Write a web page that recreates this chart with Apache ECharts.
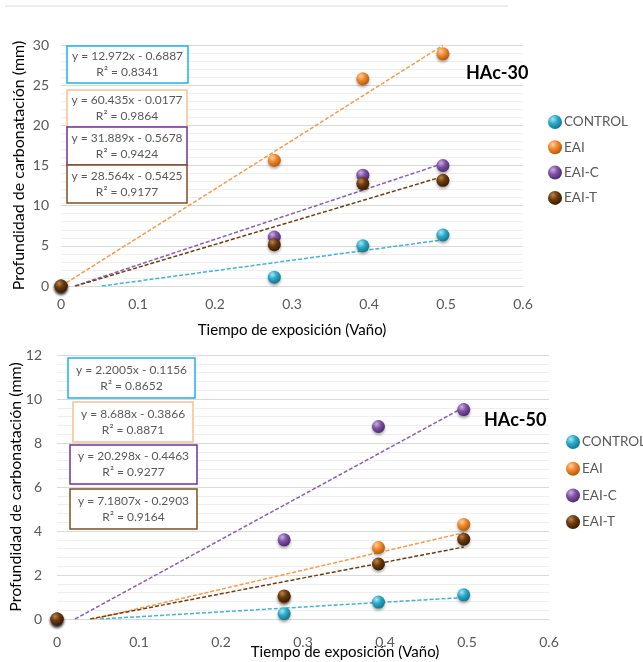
<!DOCTYPE html>
<html>
<head>
<meta charset="utf-8">
<script src="https://cdn.jsdelivr.net/npm/echarts@6/dist/echarts.min.js"></script>
<style>
    html, body { margin: 0; padding: 0; background: #fff; }
    #chart { width: 643px; height: 662px; }
</style>
</head>
<body>
<div id="chart"></div>
<script>
var seriesNames = ['CONTROL', 'EAI', 'EAI-C', 'EAI-T'];
var xTicks = [0, 0.1, 0.2, 0.3, 0.4, 0.5, 0.6];
var xTime = [0, 0.277, 0.392, 0.496];

// HAc-30
var control30 = [0, 1.1, 5.0, 6.35];
var eai30 = [0, 15.65, 25.8, 28.9];
var eaiC30 = [0, 6.1, 13.8, 15.0];
var eaiT30 = [0, 5.15, 12.75, 13.15];
var slope30 = [12.972, 60.435, 31.889, 28.564];
var intercept30 = [-0.6887, -0.0177, -0.5678, -0.5425];
var r2_30 = ['0.8341', '0.9864', '0.9424', '0.9177'];

// HAc-50
var control50 = [0, 0.24, 0.77, 1.1];
var eai50 = [0, 1.0, 3.25, 4.3];
var eaiC50 = [0, 3.6, 8.75, 9.52];
var eaiT50 = [0, 1.05, 2.5, 3.63];
var slope50 = [2.2005, 8.688, 20.298, 7.1807];
var intercept50 = [-0.1156, -0.3866, -0.4463, -0.2903];
var r2_50 = ['0.8652', '0.8871', '0.9277', '0.9164'];

var FONT = 'Lato, "Noto Sans", sans-serif';
var GREY = '#595959';

// sphere colours: [highlight, base, shadow side]
var sphereColors = [
    ['#a8e6f4', '#2aa9c8', '#12738a'],
    ['#fdd0a0', '#f0872b', '#b2560a'],
    ['#cbb0e2', '#7e52a6', '#4a286a'],
    ['#b9854f', '#6b3a0c', '#361a02']
];
var trendColors = ['#44b2d1', '#f79a4c', '#8762b0', '#6e3f14'];
var boxColors = ['#1eb1ea', '#fac090', '#7030a0', '#7f4f1f'];

function sphere(i) {
    var c = sphereColors[i];
    return new echarts.graphic.RadialGradient(0.35, 0.3, 0.75, [
        { offset: 0, color: c[0] },
        { offset: 0.45, color: c[1] },
        { offset: 1, color: c[2] }
    ]);
}

function pairs(ys) {
    return xTime.map(function(x, k) { return [x, ys[k]]; });
}

function trendData(a, b) {
    var x0 = Math.max(0, -b / a);
    var x1 = xTime[xTime.length - 1];
    return [[x0, a * x0 + b], [x1, a * x1 + b]];
}

var allSeries = [];
function addChart(idx, values, slopes, intercepts) {
    // trendlines first so the spheres sit on top
    seriesNames.forEach(function(name, i) {
        allSeries.push({
            name: name + ' tendencia',
            type: 'line',
            xAxisIndex: idx,
            yAxisIndex: idx,
            data: trendData(slopes[i], intercepts[i]),
            symbol: 'none',
            silent: true,
            z: 1,
            lineStyle: { color: trendColors[i], width: 1.5, type: [4, 2] }
        });
    });
    seriesNames.forEach(function(name, i) {
        allSeries.push({
            name: name,
            type: 'scatter',
            xAxisIndex: idx,
            yAxisIndex: idx,
            data: pairs(values[i]),
            symbolSize: 13,
            z: 3,
            itemStyle: {
                color: sphere(i),
                opacity: 1,
                shadowBlur: 3,
                shadowOffsetY: 2,
                shadowColor: 'rgba(0,0,0,0.35)'
            }
        });
    });
}
addChart(0, [control30, eai30, eaiC30, eaiT30], slope30, intercept30);
addChart(1, [control50, eai50, eaiC50, eaiT50], slope50, intercept50);

function eqText(a, b, r2) {
    return 'y = ' + a + 'x - ' + Math.abs(b) + '\nR\u00b2 = ' + r2;
}

function eqBoxes(boxes, slopes, intercepts, r2s) {
    return boxes.map(function(bx, i) {
        return {
            type: 'group',
            children: [{
                type: 'rect',
                shape: { x: bx[0], y: bx[1], width: bx[2], height: bx[3] },
                style: { fill: '#fff', stroke: boxColors[i], lineWidth: 1.5 },
                z: 10
            }, {
                type: 'text',
                x: bx[0] + bx[2] / 2,
                y: bx[1] + bx[3] / 2,
                style: {
                    text: eqText(slopes[i], intercepts[i], r2s[i]),
                    fill: GREY,
                    font: '12px ' + FONT,
                    lineHeight: 16,
                    align: 'center',
                    verticalAlign: 'middle'
                },
                z: 11
            }]
        };
    });
}

var boxes30 = [[67, 46, 121, 37], [67, 90, 120, 37], [67, 127, 120, 38], [67, 165, 120, 38]];
var boxes50 = [[68, 358, 127, 40], [73, 402, 120, 40], [70, 445, 127, 39], [70, 489, 127, 40]];

function xAxisCfg(idx, gap, pad, margin) {
    return {
        type: 'value',
        gridIndex: idx,
        min: xTicks[0],
        max: xTicks[xTicks.length - 1],
        interval: 0.1,
        name: 'Tiempo de exposición (Vaño)',
        nameLocation: 'middle',
        nameGap: gap,
        nameMoveOverlap: false,
        nameTextStyle: { color: '#000', fontSize: 15, fontFamily: FONT, padding: pad },
        axisLine: { lineStyle: { color: '#d9d9d9', width: 1 } },
        axisTick: { show: false },
        splitLine: { show: false },
        axisLabel: { color: GREY, fontSize: 14, fontFamily: FONT, margin: margin }
    };
}

function yAxisCfg(idx, max, interval, gap, margin) {
    return {
        type: 'value',
        gridIndex: idx,
        min: 0,
        max: max,
        interval: interval,
        name: 'Profundidad de carbonatación (mm)',
        nameLocation: 'middle',
        nameGap: gap,
        nameMoveOverlap: false,
        nameTextStyle: { color: '#000', fontSize: 16, fontFamily: FONT },
        axisLine: { show: false },
        axisTick: { show: false },
        minorTick: { show: false, splitNumber: 5 },
        splitLine: { lineStyle: { color: '#d9d9d9' } },
        minorSplitLine: { show: true, lineStyle: { color: '#efefef' } },
        axisLabel: { color: GREY, fontSize: 14, fontFamily: FONT, margin: margin }
    };
}

function legendCfg(left, top, gap) {
    return {
        data: seriesNames,
        orient: 'vertical',
        left: left,
        top: top,
        icon: 'circle',
        itemWidth: 14,
        itemHeight: 14,
        itemGap: gap,
        padding: 0,
        selectedMode: false,
        textStyle: { color: GREY, fontSize: 13.5, fontFamily: FONT, padding: [0, 0, 0, -3] }
    };
}

var option = {
    backgroundColor: '#fff',
    animation: false,
    title: [
        { text: 'HAc-30', left: 461, top: 59, textStyle: { fontSize: 18, fontWeight: 'bold', color: '#000', fontFamily: FONT } },
        { text: 'HAc-50', left: 479, top: 406, textStyle: { fontSize: 18, fontWeight: 'bold', color: '#000', fontFamily: FONT } }
    ],
    legend: [legendCfg(548, 115, 11.3), legendCfg(566, 435, 12.7)],
    grid: [
        { left: 61, top: 45, width: 462, height: 241, outerBoundsMode: 'none' },
        { left: 57, top: 355, width: 492, height: 264, outerBoundsMode: 'none' }
    ],
    xAxis: [xAxisCfg(0, 37, 0, 11), xAxisCfg(1, 26, [0, 0, 0, 84], 16)],
    yAxis: [yAxisCfg(0, 30, 5, 34, 12), yAxisCfg(1, 12, 2, 33, 15)],
    series: allSeries,
    graphic: [{
        type: 'line',
        shape: { x1: 5, y1: 6, x2: 508, y2: 6 },
        style: { stroke: '#d9d9d9', lineWidth: 1 }
    }].concat(eqBoxes(boxes30, slope30, intercept30, r2_30))
      .concat(eqBoxes(boxes50, slope50, intercept50, r2_50))
};

var myChart = echarts.init(document.getElementById('chart'));
myChart.setOption(option);
</script>
</body>
</html>
